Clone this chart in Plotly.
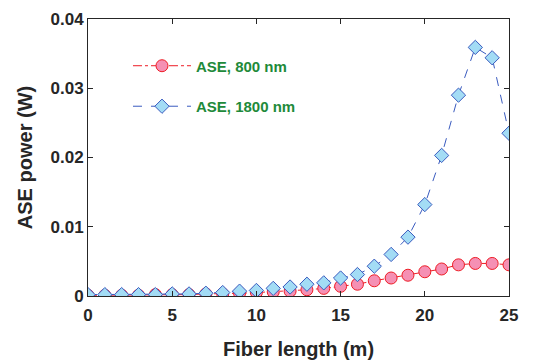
import plotly.graph_objects as go

fiber_length = list(range(26))
ase_800 = [0.0001, 0.0001, 0.0001, 0.0001, 0.0002, 0.0002, 0.0002, 0.0003, 0.0003, 0.0004,
           0.0005, 0.0006, 0.0007, 0.0009, 0.0011, 0.0014, 0.0017, 0.0022, 0.0026, 0.0030,
           0.0035, 0.0039, 0.0045, 0.0047, 0.0047, 0.0045]
ase_1800 = [0.0002, 0.0002, 0.0002, 0.0002, 0.0002, 0.0003, 0.0003, 0.0004, 0.0005, 0.0007,
            0.0008, 0.0011, 0.0013, 0.0017, 0.0019, 0.0026, 0.0031, 0.0043, 0.0060, 0.0085,
            0.0132, 0.0203, 0.0290, 0.0359, 0.0344, 0.0235]
x_ticks = [0, 5, 10, 15, 20, 25]
y_ticks = [0, 0.01, 0.02, 0.03, 0.04]
y_tick_labels = ["0", "0.01", "0.02", "0.03", "0.04"]

fig = go.Figure()
fig.add_trace(go.Scatter(
    x=fiber_length, y=ase_800, mode="lines+markers", name="ASE, 800 nm",
    line=dict(color="#ee1c25", width=1, dash="dashdot"),
    marker=dict(symbol="circle", size=12, color="#f590b4",
                line=dict(color="#ee1c25", width=1)),
    legendgroup="a",
))
fig.add_trace(go.Scatter(
    x=fiber_length, y=ase_1800, mode="lines+markers", name="ASE, 1800 nm",
    line=dict(color="#3a5bbf", width=1, dash="dash"),
    marker=dict(symbol="diamond", size=11, color="#a3dcf5",
                line=dict(color="#3a5bbf", width=1)),
    legendgroup="b",
))

fig.update_layout(
    width=540, height=360,
    margin=dict(l=88, r=31, t=19, b=64),
    paper_bgcolor="white", plot_bgcolor="white",
    font=dict(family="Liberation Sans, Arial, sans-serif", color="#262626"),
    legend=dict(x=0.095, y=0.89, xanchor="left", yanchor="top",
                font=dict(size=15, color="#1e8a3a", family="Liberation Sans, Arial, sans-serif", weight="bold"),
                bgcolor="rgba(0,0,0,0)", tracegroupgap=18, itemwidth=58),
    showlegend=True,
)
fig.update_xaxes(
    range=[0, 25], tickvals=x_ticks, ticks="inside", ticklen=5, tickcolor="#262626",
    showline=True, linecolor="#262626", linewidth=1, mirror="ticks",
    showgrid=False, zeroline=False, ticklabelstandoff=4, automargin=False,
    tickfont=dict(size=17, weight="bold", color="#262626"),
    title=dict(text="Fiber length (m)", font=dict(size=20, weight="bold", color="#262626"), standoff=18),
)
fig.update_yaxes(
    range=[0, 0.04], tickvals=y_ticks, ticktext=y_tick_labels, ticks="inside", ticklen=5,
    tickcolor="#262626", automargin=False,
    showline=True, linecolor="#262626", linewidth=1, mirror="ticks",
    showgrid=False, zeroline=False,
    tickfont=dict(size=17, weight="bold", color="#262626"),
    title=dict(text="ASE power (W)", font=dict(size=20, weight="bold", color="#262626"), standoff=12),
)

fig.write_html("out.html")
